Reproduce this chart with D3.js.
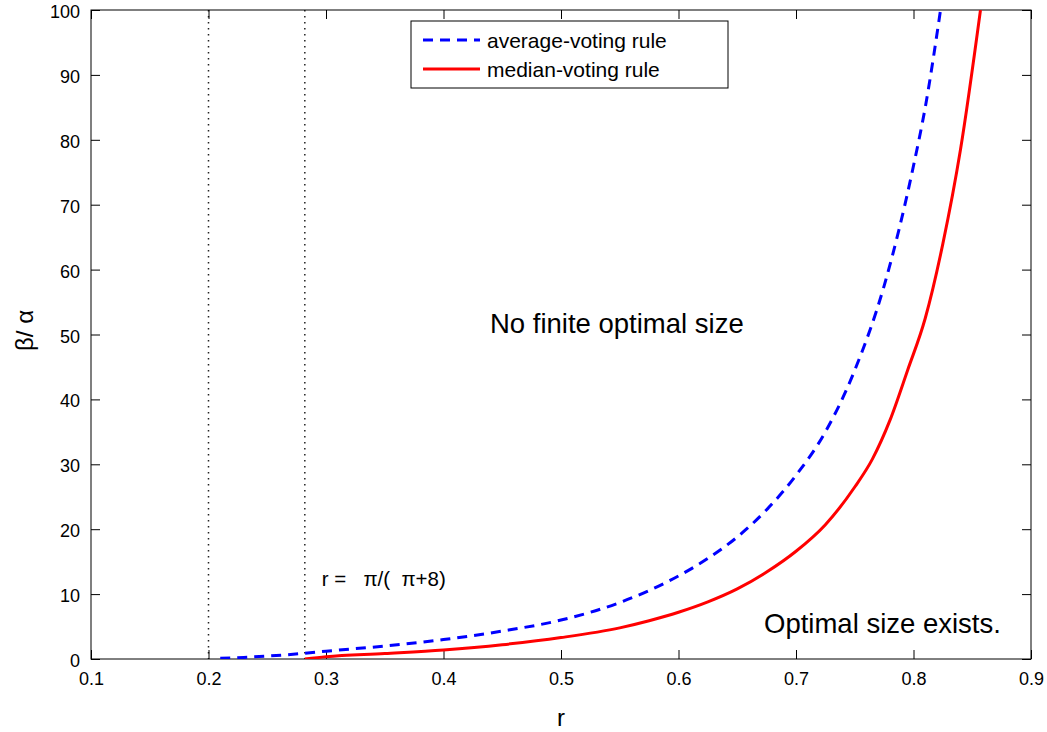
<!DOCTYPE html>
<html>
<head>
<meta charset="utf-8">
<script src="https://cdn.jsdelivr.net/npm/d3@7"></script>
<style>
  body { margin: 0; background: #fff; }
  svg { font-family: 'Liberation Sans', Arial, sans-serif; }
  text { white-space: pre; }
</style>
</head>
<body>
<div id="chart"></div>
<script>
// values
const avgR = [0.21, 0.23, 0.25, 0.28, 0.3, 0.35, 0.4, 0.45, 0.5, 0.55, 0.6, 0.625, 0.65, 0.675, 0.7, 0.725, 0.75, 0.775, 0.8, 0.81, 0.823]
const avgV = [0.1, 0.25, 0.45, 0.85, 1.2, 2.0, 3.0, 4.3, 6.0, 8.7, 12.8, 15.5, 18.8, 23.0, 28.3, 35.0, 44.5, 57.5, 76, 85, 100]
const medR = [0.282, 0.3, 0.35, 0.4, 0.45, 0.5, 0.55, 0.575, 0.6, 0.625, 0.65, 0.675, 0.7, 0.725, 0.75, 0.765, 0.78, 0.795, 0.81, 0.825, 0.84, 0.857]
const medV = [0, 0.35, 0.85, 1.4, 2.2, 3.3, 4.8, 5.9, 7.2, 8.8, 10.8, 13.4, 16.6, 20.7, 26.5, 30.8, 36.8, 44.5, 52.5, 64, 78.5, 100]
const xTicks = [0.1, 0.2, 0.3, 0.4, 0.5, 0.6, 0.7, 0.8, 0.9]
const yTicks = [0, 10, 20, 30, 40, 50, 60, 70, 80, 90, 100]
const vLines = [0.2, Math.PI / (Math.PI + 8)]
const seriesNames = ['average-voting rule', 'median-voting rule']

const outerWidth = 1047
const outerHeight = 732
const margin = { top: 10, right: 16, bottom: 73, left: 91 }
const width = outerWidth - margin.left - margin.right
const height = outerHeight - margin.top - margin.bottom

const raw = d3.select('#chart')
  .append('svg')
  .attr('width', outerWidth)
  .attr('height', outerHeight)
const svg = raw.append('g')
  .attr('transform', `translate(${margin.left},${margin.top})`)

svg.append('clipPath').attr('id', 'clip')
  .append('rect').attr('width', width).attr('height', height)

const xs = d3.scaleLinear().domain([0.1, 0.9]).range([0, width])
const ys = d3.scaleLinear().domain([0, 100]).range([height, 0])

// dotted verticals
svg.selectAll('.vline')
  .data(vLines)
  .enter()
  .append('line')
  .attr('x1', d => xs(d)).attr('x2', d => xs(d))
  .attr('y1', 0).attr('y2', height)
  .attr('stroke', '#222')
  .attr('stroke-width', 1.5)
  .attr('stroke-dasharray', '1.5 4.5')

// axes, ticks pointing inwards on all four sides
const tk = 9
svg.append('g')
  .attr('transform', `translate(0,${height})`)
  .call(d3.axisBottom(xs).tickValues(xTicks).tickFormat(d3.format('.1f')).tickSizeInner(-tk).tickSizeOuter(0).tickPadding(13))
  .call(g => g.select('.domain').remove())
svg.append('g')
  .call(d3.axisTop(xs).tickValues(xTicks).tickSizeInner(-tk).tickSizeOuter(0).tickFormat(''))
  .call(g => g.select('.domain').remove())
svg.append('g')
  .call(d3.axisLeft(ys).tickValues(yTicks).tickSizeInner(-tk).tickSizeOuter(0).tickPadding(11))
  .call(g => g.select('.domain').remove())
  .call(g => g.selectAll('text').attr('dy', '0.42em'))
svg.append('g')
  .attr('transform', `translate(${width},0)`)
  .call(d3.axisRight(ys).tickValues(yTicks).tickSizeInner(-tk).tickSizeOuter(0).tickFormat(''))
  .call(g => g.select('.domain').remove())
svg.selectAll('.tick text')
  .attr('font-size', 18)
  .attr('font-family', "'Liberation Sans', Arial, sans-serif")
  .attr('fill', '#000')
svg.selectAll('.tick line').attr('stroke', '#000')

svg.append('rect')
  .attr('width', width)
  .attr('height', height)
  .attr('fill', 'none')
  .attr('stroke', '#000')

// curves
const line = d3.line()
  .x(d => xs(d[0]))
  .y(d => ys(d[1]))
  .curve(d3.curveMonotoneX)
const avg = d3.zip(avgR, avgV)
const med = d3.zip(medR, medV)
svg.append('path')
  .datum(avg)
  .attr('d', line)
  .attr('clip-path', 'url(#clip)')
  .attr('fill', 'none')
  .attr('stroke', '#0000ff')
  .attr('stroke-width', 3)
  .attr('stroke-dasharray', '10 7')
svg.append('path')
  .datum(med)
  .attr('d', line)
  .attr('clip-path', 'url(#clip)')
  .attr('fill', 'none')
  .attr('stroke', '#ff0000')
  .attr('stroke-width', 3)

// annotations
svg.append('text')
  .attr('x', xs(vLines[1]) + 17)
  .attr('y', 576)
  .attr('font-size', 20.5)
  .attr('xml:space', 'preserve')
  .text('r =   π/(  π+8)')
svg.append('text')
  .attr('x', 399)
  .attr('y', 323)
  .attr('font-size', 27.5)
  .text('No finite optimal size')
svg.append('text')
  .attr('x', 673)
  .attr('y', 623)
  .attr('font-size', 27.5)
  .text('Optimal size exists.')

// legend
const legend = svg.append('g').attr('transform', 'translate(320,11)')
legend.append('rect')
  .attr('width', 317)
  .attr('height', 67)
  .attr('fill', '#fff')
  .attr('stroke', '#000')
const styles = [{ c: '#0000ff', dash: '10 7' }, { c: '#ff0000', dash: null }]
seriesNames.forEach((name, i) => {
  const y = 19 + i * 29
  legend.append('line')
    .attr('x1', 12).attr('x2', 69)
    .attr('y1', y).attr('y2', y)
    .attr('stroke', styles[i].c)
    .attr('stroke-width', 3)
    .attr('stroke-dasharray', styles[i].dash)
  legend.append('text')
    .attr('x', 76)
    .attr('y', y + 8)
    .attr('font-size', 21)
    .text(name)
})

// axis labels
svg.append('text')
  .attr('x', width / 2)
  .attr('y', height + 67)
  .attr('text-anchor', 'middle')
  .attr('font-size', 24)
  .text('r')
svg.append('text')
  .attr('transform', 'rotate(-90)')
  .attr('x', -(height / 2) + 4)
  .attr('y', -58)
  .attr('text-anchor', 'middle')
  .attr('font-size', 24)
  .attr('xml:space', 'preserve')
  .text('β/ α')
</script>
</body>
</html>
